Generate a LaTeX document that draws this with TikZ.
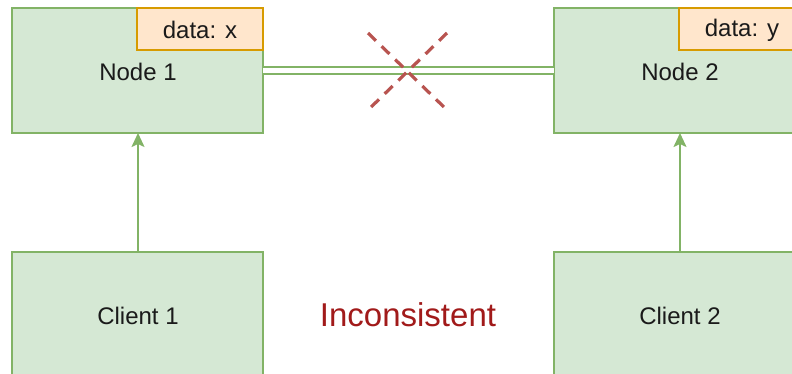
\documentclass[tikz,border=0pt]{standalone}
\usepackage{fontspec}
\setmainfont{Liberation Sans}
\usetikzlibrary{arrows.meta}
\definecolor{boxfill}{HTML}{D5E8D4}
\definecolor{boxline}{HTML}{82B366}
\definecolor{datafill}{HTML}{FFE6CC}
\definecolor{dataline}{HTML}{D79B00}
\definecolor{crossred}{HTML}{B85450}
\definecolor{warnred}{HTML}{A11A1A}
\definecolor{textdark}{HTML}{1A1A1A}
\tikzset{
  server/.style={draw=boxline, fill=boxfill, line width=1.8pt},
  databox/.style={draw=dataline, fill=datafill, line width=1.8pt},
  lbl/.style={text=textdark, font=\fontsize{24}{28}\selectfont, inner sep=0pt},
  req/.style={draw=boxline, line width=1.8pt, -{Stealth[length=14pt,width=13pt,inset=3pt]}},
  cut/.style={draw=crossred, line width=3.2pt, dash pattern=on 11pt off 8pt}
}
\begin{document}
\begin{tikzpicture}[x=1pt, y=-1pt]
  \useasboundingbox (0,0) rectangle (792,373);
  \clip (0,0) rectangle (792,373);

  % replica nodes with their stored value
  \draw[server] (12,8) rectangle (263,133);
  \draw[databox] (137,8) rectangle (263,50);
  \node[lbl] (d1) at (200,30) {data: x};
  \node[lbl] (n1) at (138,72) {Node 1};
  \coordinate (n1top) at (138,133);
  \coordinate (n1right) at (263,70.5);

  \draw[server] (554,8) rectangle (805,133);
  \draw[databox] (679,8) rectangle (805,50);
  \node[lbl] (d2) at (742,30) {data: y};
  \node[lbl] (n2) at (680,72) {Node 2};
  \coordinate (n2bot) at (680,133);
  \coordinate (n2left) at (554,70.5);

  % clients
  \draw[server] (12,252) rectangle (263,380);
  \node[lbl] (c1) at (138,316) {Client 1};
  \coordinate (c1top) at (138,252);
  \draw[server] (554,252) rectangle (805,380);
  \node[lbl] (c2) at (680,316) {Client 2};
  \coordinate (c2top) at (680,252);

  % requests
  \draw[req] (c1top) -- (n1top);
  \draw[req] (c2top) -- (n2bot);

  % replication link, broken
  \draw[boxline, line width=1.8pt, double=white, double distance=5.5pt] (n1right) -- (n2left);
  \coordinate (xa) at (368,33);
  \coordinate (xb) at (449,112);
  \coordinate (xc) at (447,33);
  \coordinate (xd) at (366,112);
  \draw[cut] (xa) -- (xb);
  \draw[cut] (xc) -- (xd);

  \node[text=warnred, font=\fontsize{33}{38}\selectfont, inner sep=0pt] (msg) at (408,315) {Inconsistent};
\end{tikzpicture}
\end{document}
